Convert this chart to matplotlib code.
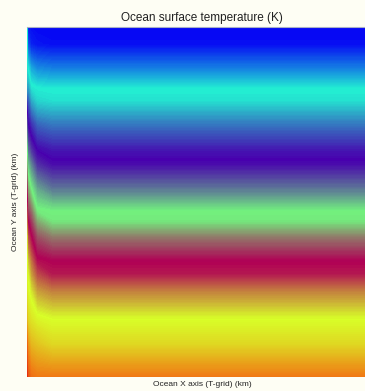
import numpy as np
import matplotlib
matplotlib.use("Agg")
import matplotlib.pyplot as plt
from matplotlib.colors import LinearSegmentedColormap

plt.rcParams['font.family'] = ['Liberation Sans', 'DejaVu Sans']

# ---- data ----
title = "Ocean surface temperature (K)"
xlabel = "Ocean X axis (T-grid) (km)"
ylabel = "Ocean Y axis (T-grid) (km)"

x_km = [0, 10, 40, 100, 250, 3500]
y_km = [3500, 3320, 3090, 2870, 2750, 2520, 2270, 2120, 1870, 1650,
        1550, 1390, 1150, 1020, 850, 570, 320, 0]

temp_x0 = [280.95, 281.0, 281.05, 281.3, 281.7, 282.3, 282.9, 283.2, 283.8, 284.2,
           284.4, 284.8, 285.0, 285.05, 285.15, 285.5, 286.2, 286.8]
temp_x10 = [280.1, 280.35, 280.95, 281.35, 281.6, 282.0, 282.45, 282.8, 283.3, 283.75,
            284.0, 284.3, 284.75, 284.95, 285.05, 285.3, 285.8, 286.4]
temp_x40 = [280.02, 280.12, 280.68, 281.08, 281.3, 281.8, 282.22, 282.55, 283.02, 283.55,
            283.75, 284.03, 284.45, 284.62, 284.9, 285.2, 285.55, 286.1]
temp_x100 = [280.0, 280.06, 280.55, 281.02, 281.12, 281.58, 281.98, 282.2, 282.7, 283.04,
             283.3, 283.68, 284.06, 284.3, 284.62, 285.08, 285.45, 286.0]
temp_interior = [280.0, 280.03, 280.5, 281.0, 281.08, 281.5, 281.9, 282.05, 282.5, 283.0,
                 283.05, 283.5, 284.0, 284.1, 284.5, 285.0, 285.3, 286.0]
temp_east = [280.0, 280.03, 280.5, 281.0, 281.08, 281.5, 281.9, 282.05, 282.5, 283.0,
             283.05, 283.5, 284.0, 284.1, 284.5, 285.0, 285.3, 286.0]

cmap_levels = [280, 281, 282, 283, 284, 285, 286, 287]
cmap_colors = ["#0608f4", "#22f0d2", "#4800ae", "#72f27e", "#b00055",
               "#d8ff28", "#f07a14", "#e01a10"]

# ---- figure ----
W, H = 365, 391
fig = plt.figure(figsize=(W / 100, H / 100), dpi=100, facecolor="#fefef4")
ax = fig.add_axes([27 / W, 1 - 377 / H, 350 / W, 350.5 / H])

lo, hi = cmap_levels[0], cmap_levels[-1]
cmap = LinearSegmentedColormap.from_list(
    "ocean_custom",
    [((v - lo) / (hi - lo), c) for v, c in zip(cmap_levels, cmap_colors)], N=512)

T = np.array([temp_x0, temp_x10, temp_x40, temp_x100, temp_interior, temp_east]).T
X, Y = np.meshgrid(x_km, y_km)
ax.contourf(X, Y, T, levels=np.linspace(lo, hi, 300), cmap=cmap,
            vmin=lo, vmax=hi, antialiased=False, extend="both")

ax.set_xlim(0, 3500)
ax.set_ylim(0, 3500)
ax.set_xticks([])
ax.set_yticks([])
for s in ["left", "right", "bottom"]:
    ax.spines[s].set_visible(False)
ax.spines["top"].set_color("#a8b0c8")
ax.spines["top"].set_linewidth(0.8)

ax.set_title(title, fontsize=8.5, color="#222222", pad=4)
ax.set_xlabel(xlabel, fontsize=6, color="#222222", labelpad=3)
ax.set_ylabel(ylabel, fontsize=6, color="#222222", labelpad=5.5)

fig.savefig("out.png", dpi=100, facecolor=fig.get_facecolor())
